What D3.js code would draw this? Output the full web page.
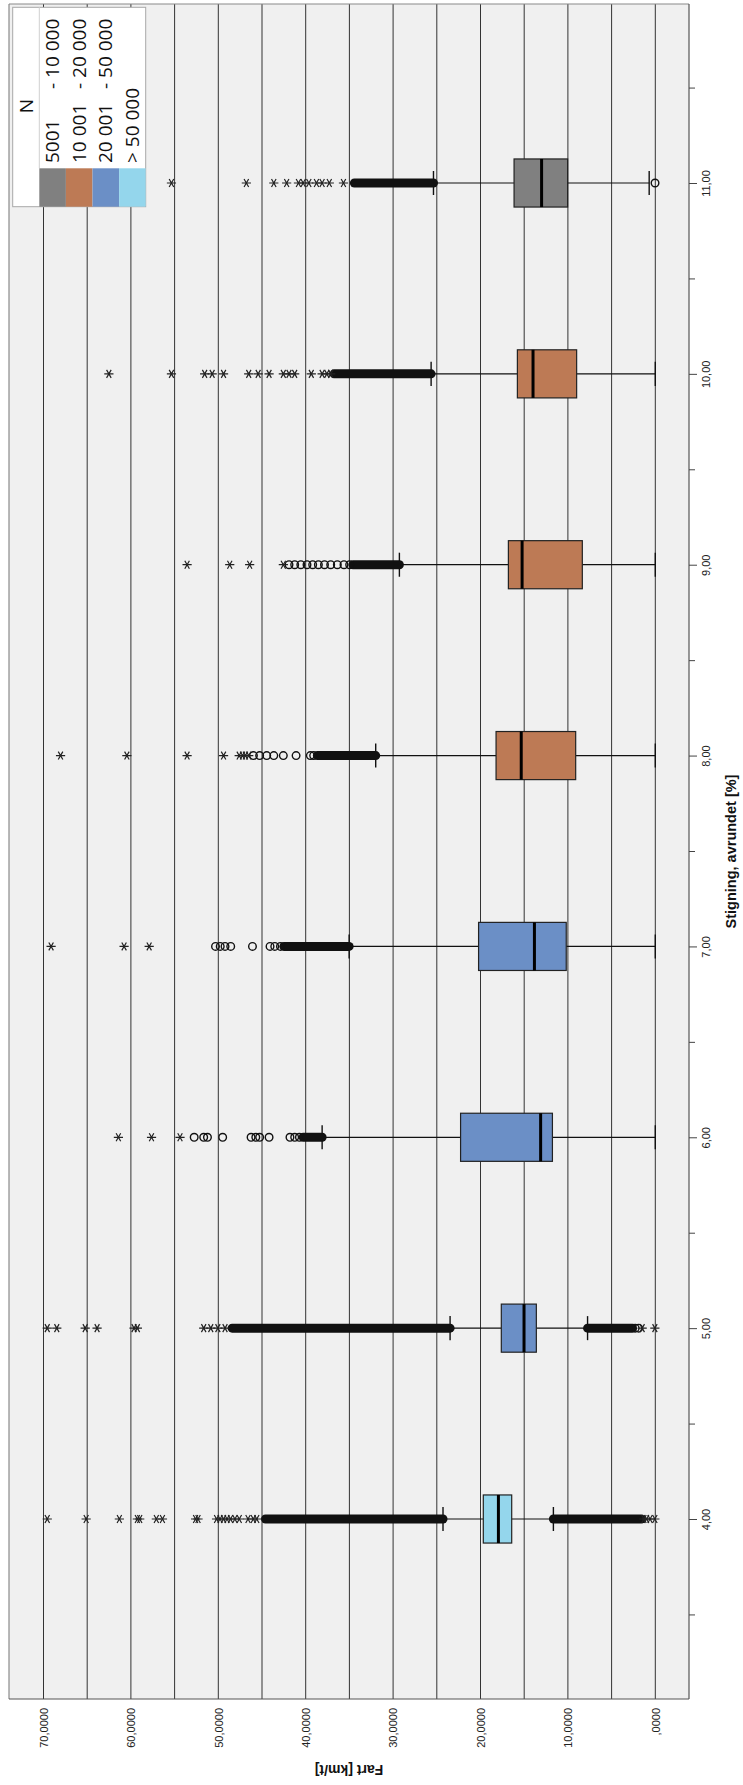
<!DOCTYPE html>
<html>
<head>
<meta charset="utf-8">
<script src="https://cdn.jsdelivr.net/npm/d3@7"></script>
<style>
  html, body { margin: 0; padding: 0; background: #fff; }
  svg { display: block; }
</style>
</head>
<body>
<div id="chart"></div>
<script>
// Data (km/t)
const categories = [4, 5, 6, 7, 8, 9, 10, 11];
const categoryLabels = ["4,00", "5,00", "6,00", "7,00", "8,00", "9,00", "10,00", "11,00"];
const nGroupOfCategory = [3, 2, 2, 2, 1, 1, 1, 0];

const q1 =          [16.43, 13.61, 11.77, 10.19,  9.11,  8.35,  9.00, 10.03];
const medians =     [17.95, 15.02, 13.12, 13.83, 15.34, 15.24, 13.99, 13.01];
const q3 =          [19.68, 17.62, 22.28, 20.22, 18.22, 16.81, 15.78, 16.16];
const whiskerLow =  [11.66,  7.75,  0.00,  0.00,  0.00,  0.00,  0.00,  0.70];
const whiskerHigh = [24.29, 23.48, 38.12, 35.03, 31.99, 29.28, 25.65, 25.38];

// extreme outliers (*)
const starOutliers = [
    [69.57, 65.12, 61.32, 59.26, 58.99, 57.09, 56.39, 52.60, 52.32,
     50.2, 49.8, 49.4, 49.0, 48.6, 48.1, 47.6, 46.6, 46.0, 45.6, 1.3, 1.0, 0.6, 0.05],
    [69.57, 68.48, 65.23, 63.87, 59.64, 59.26, 51.67, 50.86, 50.05, 49.23, 1.5, 0.05],
    [61.43, 57.64, 54.38],
    [69.13, 60.78, 57.91],
    [68.05, 60.46, 53.57, 49.40, 47.61, 47.23, 46.90, 46.52],
    [53.57, 48.69, 46.41, 42.56],
    [62.52, 55.36, 51.56, 50.70, 49.40, 46.52, 45.44, 44.19, 42.56, 41.91, 41.26, 39.36, 38.12, 37.58, 37.14],
    [55.36, 46.79, 43.65, 42.18, 40.83, 40.29, 39.64, 38.77, 38.12, 37.30, 35.68]
];
// mild outliers (o)
const circleOutliers = [
    [],
    [2.3, 1.9],
    [52.76, 51.67, 51.24, 49.50, 46.25, 45.71, 45.27, 44.19, 41.80, 41.26, 40.72],
    [50.32, 49.78, 49.23, 48.58, 46.09, 44.08, 43.54, 42.89],
    [45.98, 45.27, 44.46, 43.65, 42.56, 41.10, 39.47, 39.09],
    [41.91, 41.26, 40.56, 39.85, 39.20, 38.55, 37.85, 37.14, 36.38, 35.62, 34.97],
    [],
    [0.03]
];
// runs where markers overlap into a solid band [from, to]
const denseRuns = [
    [[44.6, 24.29], [11.66, 1.6]],
    [[48.42, 23.48], [7.75, 2.6]],
    [[40.29, 38.12]],
    [[42.5, 35.03]],
    [[38.66, 31.99]],
    [[34.59, 29.28]],
    [[36.76, 25.65]],
    [[34.43, 25.38]]
];

const gridValues = [0, 5, 10, 15, 20, 25, 30, 35, 40, 45, 50, 55, 60, 65, 70];
const valueTicks = [70, 60, 50, 40, 30, 20, 10, 0];
const valueTickLabels = ["70,0000", "60,0000", "50,0000", "40,0000", "30,0000", "20,0000", "10,0000", ",0000"];
const minorCategoryTicks = [3.5, 4.5, 5.5, 6.5, 7.5, 8.5, 9.5, 10.5, 11.5];

const legendTitle = "N";
const legendLow = ["5001", "10 001", "20 001", "> 50 000"];
const legendHigh = ["- 10 000", "- 20 000", "- 50 000", ""];
const legendColors = ["#808080", "#bd7a55", "#6b8fc6", "#94d6ec"];

// Layout
const W = 743, H = 1785;
const plot = { left: 9, right: 689, top: 4, bottom: 1699 };
const boxHalf = 0.126;   // in category units
const capHalf = 0.063;
const axisFont = "'Liberation Sans', Arial, sans-serif";

const x = d3.scaleLinear().domain([0, 70]).range([655.3, 43.5]);
const y = d3.scaleLinear().domain([4, 11]).range([1519, 183]);

const svg = d3.select("#chart")
    .append("svg")
    .attr("width", W)
    .attr("height", H)
    .attr("viewBox", `0 0 ${W} ${H}`);

svg.append("rect").attr("width", W).attr("height", H).attr("fill", "#fff");

svg.append("rect")
    .attr("x", plot.left).attr("y", plot.top)
    .attr("width", plot.right - plot.left)
    .attr("height", plot.bottom - plot.top)
    .attr("fill", "#f0f0f0");

// grid
svg.append("g").selectAll("line")
    .data(gridValues)
    .enter().append("line")
    .attr("x1", d => x(d)).attr("x2", d => x(d))
    .attr("y1", plot.top).attr("y2", plot.bottom)
    .attr("stroke", "#333")
    .attr("stroke-width", 1);

// boxes
const rows = categories.map((c, i) => ({
    c, i,
    q1: q1[i], med: medians[i], q3: q3[i],
    lo: whiskerLow[i], hi: whiskerHigh[i],
    color: legendColors[nGroupOfCategory[i]]
}));

const boxG = svg.append("g");
const row = boxG.selectAll("g.row").data(rows).enter().append("g").attr("class", "row");

// whiskers
row.append("line")
    .attr("x1", d => x(d.q3)).attr("x2", d => x(d.hi))
    .attr("y1", d => y(d.c)).attr("y2", d => y(d.c))
    .attr("stroke", "#111").attr("stroke-width", 1.2);
row.append("line")
    .attr("x1", d => x(d.q1)).attr("x2", d => x(d.lo))
    .attr("y1", d => y(d.c)).attr("y2", d => y(d.c))
    .attr("stroke", "#111").attr("stroke-width", 1.2);
row.append("line")
    .attr("x1", d => x(d.hi)).attr("x2", d => x(d.hi))
    .attr("y1", d => y(d.c - capHalf)).attr("y2", d => y(d.c + capHalf))
    .attr("stroke", "#111").attr("stroke-width", 1.4);
row.append("line")
    .attr("x1", d => x(d.lo)).attr("x2", d => x(d.lo))
    .attr("y1", d => y(d.c - capHalf)).attr("y2", d => y(d.c + capHalf))
    .attr("stroke", "#111").attr("stroke-width", 1.4);

// dense bands of outliers
const runs = [];
denseRuns.forEach((list, i) => list.forEach(r => runs.push({ c: categories[i], a: r[0], b: r[1] })));
svg.append("g").selectAll("line")
    .data(runs)
    .enter().append("line")
    .attr("x1", d => x(d.a)).attr("x2", d => x(d.b))
    .attr("y1", d => y(d.c)).attr("y2", d => y(d.c))
    .attr("stroke", "#111")
    .attr("stroke-width", 9)
    .attr("stroke-linecap", "round");

// circles
const circ = [];
circleOutliers.forEach((list, i) => list.forEach(v => circ.push({ c: categories[i], v })));
svg.append("g").selectAll("circle")
    .data(circ)
    .enter().append("circle")
    .attr("cx", d => x(d.v)).attr("cy", d => y(d.c))
    .attr("r", 3.8)
    .attr("fill", "none")
    .attr("stroke", "#111")
    .attr("stroke-width", 1.4);

// stars
const stars = [];
starOutliers.forEach((list, i) => list.forEach(v => stars.push({ c: categories[i], v })));
const s = 4.6;
const starPath = `M${-s},0L${s},0M${-s / 2},${-s * 0.866}L${s / 2},${s * 0.866}M${-s / 2},${s * 0.866}L${s / 2},${-s * 0.866}`;
svg.append("g").selectAll("path")
    .data(stars)
    .enter().append("path")
    .attr("transform", d => `translate(${x(d.v)},${y(d.c)})`)
    .attr("d", starPath)
    .attr("stroke", "#222")
    .attr("stroke-width", 1.2)
    .attr("fill", "none");

// box rectangles on top of whiskers
row.append("rect")
    .attr("x", d => x(d.q3))
    .attr("width", d => x(d.q1) - x(d.q3))
    .attr("y", d => y(d.c + boxHalf))
    .attr("height", d => y(d.c - boxHalf) - y(d.c + boxHalf))
    .attr("fill", d => d.color)
    .attr("stroke", "#222")
    .attr("stroke-width", 1.2);
row.append("line")
    .attr("x1", d => x(d.med)).attr("x2", d => x(d.med))
    .attr("y1", d => y(d.c + boxHalf)).attr("y2", d => y(d.c - boxHalf))
    .attr("stroke", "#000")
    .attr("stroke-width", 3);

// frame
svg.append("line").attr("x1", plot.left).attr("x2", plot.right).attr("y1", plot.top).attr("y2", plot.top)
    .attr("stroke", "#8a8a8a").attr("stroke-width", 1.2);
svg.append("line").attr("x1", plot.left).attr("x2", plot.left).attr("y1", plot.top).attr("y2", plot.bottom)
    .attr("stroke", "#8a8a8a").attr("stroke-width", 1.2);
svg.append("line").attr("x1", plot.left).attr("x2", plot.right).attr("y1", plot.bottom).attr("y2", plot.bottom)
    .attr("stroke", "#555").attr("stroke-width", 1.2);
svg.append("line").attr("x1", plot.right).attr("x2", plot.right).attr("y1", plot.top).attr("y2", plot.bottom)
    .attr("stroke", "#555").attr("stroke-width", 1.2);

// category axis (right side)
const catAxis = svg.append("g")
    .attr("transform", `translate(${plot.right},0)`)
    .call(d3.axisRight(y).tickValues(categories).tickSize(8)
        .tickFormat((d, i) => categoryLabels[i]));
catAxis.select(".domain").remove();
catAxis.selectAll("line").attr("stroke", "#444");
catAxis.selectAll("text")
    .attr("x", null).attr("dy", null)
    .attr("transform", "translate(21,0) rotate(-90)")
    .attr("text-anchor", "middle")
    .attr("fill", "#222")
    .style("font-family", axisFont)
    .style("font-size", "11px");

const minorAxis = svg.append("g")
    .attr("transform", `translate(${plot.right},0)`)
    .call(d3.axisRight(y).tickValues(minorCategoryTicks).tickSize(6).tickFormat(""));
minorAxis.select(".domain").remove();
minorAxis.selectAll("line").attr("stroke", "#444");

// value axis (bottom)
const valAxis = svg.append("g")
    .attr("transform", `translate(0,${plot.bottom})`)
    .call(d3.axisBottom(x).tickValues(valueTicks).tickSize(0)
        .tickFormat((d, i) => valueTickLabels[i]));
valAxis.select(".domain").remove();
valAxis.selectAll("text")
    .attr("y", null).attr("dy", "0.35em")
    .attr("transform", "translate(0,9) rotate(-90)")
    .attr("text-anchor", "end")
    .attr("fill", "#222")
    .style("font-family", axisFont)
    .style("font-size", "11px");

// axis titles
svg.append("text")
    .attr("transform", `translate(736,${(plot.top + plot.bottom) / 2}) rotate(-90)`)
    .attr("text-anchor", "middle")
    .style("font-family", axisFont)
    .style("font-weight", "bold")
    .style("font-size", "14.5px")
    .attr("fill", "#111")
    .text("Stigning, avrundet [%]");

svg.append("text")
    .attr("transform", `translate(${(plot.left + plot.right) / 2},1765) rotate(180)`)
    .attr("text-anchor", "middle")
    .style("font-family", axisFont)
    .style("font-weight", "bold")
    .style("font-size", "14px")
    .attr("fill", "#111")
    .text("Fart [km/t]");

// legend
const lg = svg.append("g");
const lgBox = { x: 12.7, y: 7.3, w: 133, h: 199.4, titleW: 26.6, swatchTop: 168.3 };
lg.append("rect")
    .attr("x", lgBox.x).attr("y", lgBox.y)
    .attr("width", lgBox.w).attr("height", lgBox.h)
    .attr("fill", "#fff")
    .attr("stroke", "#a8a8a8").attr("stroke-width", 1);
lg.append("line")
    .attr("x1", lgBox.x + lgBox.titleW).attr("x2", lgBox.x + lgBox.titleW)
    .attr("y1", lgBox.y).attr("y2", lgBox.swatchTop)
    .attr("stroke", "#d0d0d0");
lg.append("text")
    .attr("transform", `translate(${lgBox.x + lgBox.titleW / 2},106) rotate(-90)`)
    .attr("text-anchor", "middle").attr("dy", "0.35em")
    .style("font-family", "'Open Sans', sans-serif")
    .style("font-size", "19px")
    .attr("fill", "#111")
    .text(legendTitle);

const colW = (lgBox.w - lgBox.titleW) / legendLow.length;
const entries = lg.selectAll("g.entry")
    .data(legendLow)
    .enter().append("g").attr("class", "entry")
    .attr("transform", (d, i) => `translate(${lgBox.x + lgBox.titleW + i * colW},0)`);
entries.append("rect")
    .attr("x", 0).attr("width", colW)
    .attr("y", lgBox.swatchTop).attr("height", lgBox.y + lgBox.h - lgBox.swatchTop)
    .attr("fill", (d, i) => legendColors[i]);
entries.append("text")
    .attr("transform", `translate(${colW / 2},163) rotate(-90)`)
    .attr("dy", "0.35em")
    .style("font-family", "'Open Sans', sans-serif")
    .style("font-size", "19px")
    .attr("fill", "#111")
    .text(d => d);
entries.append("text")
    .attr("transform", `translate(${colW / 2},89) rotate(-90)`)
    .attr("dy", "0.35em")
    .style("font-family", "'Open Sans', sans-serif")
    .style("font-size", "19px")
    .attr("fill", "#111")
    .text((d, i) => legendHigh[i]);
</script>
</body>
</html>
